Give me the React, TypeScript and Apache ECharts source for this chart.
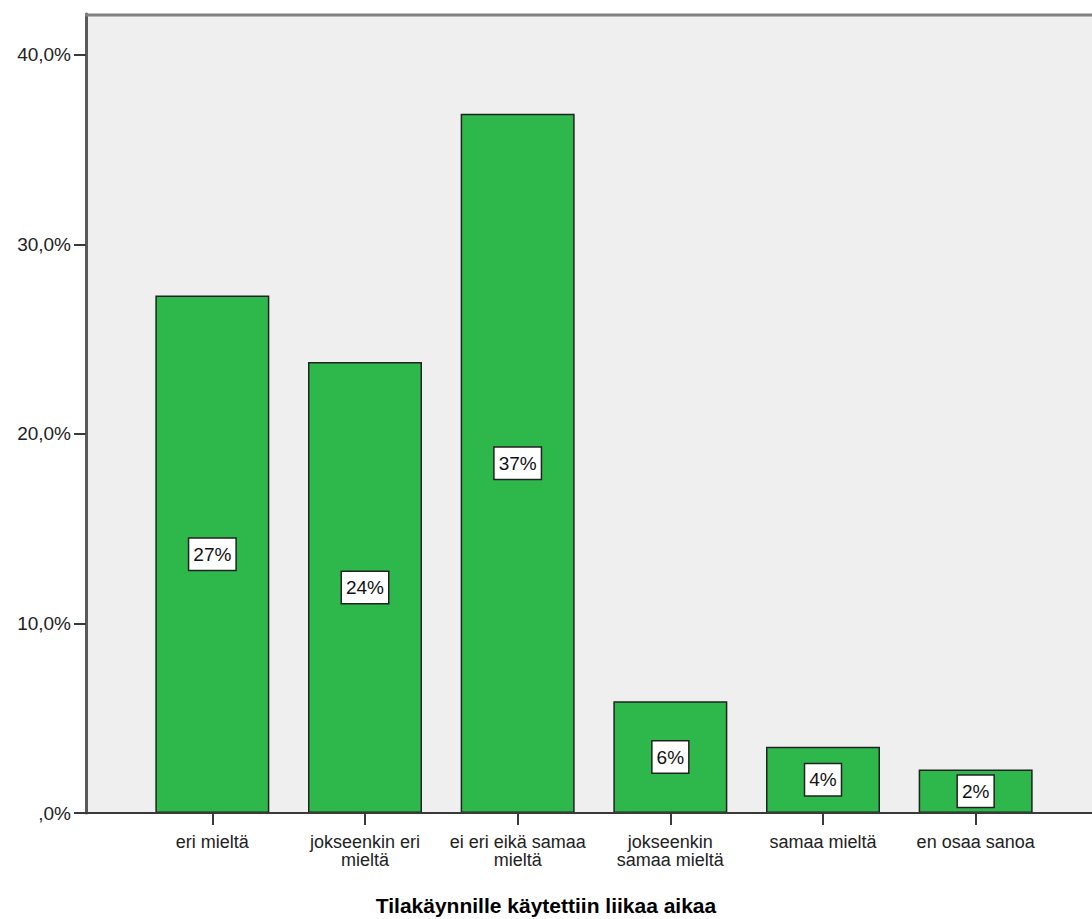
import React, { useEffect, useRef } from "react";
import * as echarts from "echarts";

const categories = [
  "eri mieltä",
  "jokseenkin eri\nmieltä",
  "ei eri eikä samaa\nmieltä",
  "jokseenkin\nsamaa mieltä",
  "samaa mieltä",
  "en osaa sanoa",
];
const percentages = [27.3, 23.8, 36.9, 5.9, 3.5, 2.3];
const axisTitle = "Tilakäynnille käytettiin liikaa aikaa";

const FONT = "'Liberation Sans', Arial, sans-serif";
const W = 1092;
const H = 919;
const PLOT_LEFT = 86;
const PLOT_TOP = 14;
const PLOT_BOTTOM = 813;

export default function App() {
  const ref = useRef<HTMLDivElement>(null);

  useEffect(() => {
    if (!ref.current) return;
    const chart = echarts.init(ref.current, undefined, { renderer: "svg" });
    chart.setOption({
      animation: false,
      backgroundColor: "#ffffff",
      textStyle: { fontFamily: FONT },
      grid: {
        left: 136,
        right: 40,
        top: PLOT_TOP,
        bottom: H - PLOT_BOTTOM,
        containLabel: false,
      },
      graphic: [
        {
          type: "rect",
          z: -10,
          shape: { x: PLOT_LEFT, y: PLOT_TOP, width: W - PLOT_LEFT, height: PLOT_BOTTOM - PLOT_TOP },
          style: { fill: "#efefef" },
        },
        {
          type: "line",
          z: 50,
          shape: { x1: PLOT_LEFT - 1, y1: PLOT_TOP + 1, x2: W, y2: PLOT_TOP + 1 },
          style: { stroke: "#808080", lineWidth: 3 },
        },
        {
          type: "line",
          z: 50,
          shape: { x1: PLOT_LEFT, y1: PLOT_BOTTOM, x2: W, y2: PLOT_BOTTOM },
          style: { stroke: "#3a3a3a", lineWidth: 2 },
        },
        {
          type: "text",
          z: 50,
          x: 546,
          y: 905,
          style: {
            text: axisTitle,
            fontFamily: FONT,
            fontSize: 21,
            fontWeight: "bold",
            fill: "#000000",
            align: "center",
            verticalAlign: "middle",
          },
        },
      ],
      xAxis: {
        type: "category",
        data: categories,
        axisLine: { show: false },
        axisTick: {
          show: true,
          alignWithLabel: true,
          length: 12,
          lineStyle: { color: "#3a3a3a", width: 2 },
        },
        axisLabel: {
          color: "#222222",
          fontSize: 18,
          lineHeight: 18,
          margin: 20,
          interval: 0,
          fontFamily: FONT,
        },
        splitLine: { show: false },
      },
      yAxis: {
        type: "value",
        min: 0,
        max: 42.16,
        interval: 10,
        offset: 136 - PLOT_LEFT,
        axisLine: { show: true, lineStyle: { color: "#5a5a5a", width: 3 } },
        axisTick: { show: true, length: 12, lineStyle: { color: "#3a3a3a", width: 2 } },
        axisLabel: {
          color: "#222222",
          fontSize: 19,
          margin: 15,
          showMaxLabel: false,
          fontFamily: FONT,
          formatter: (v: number) => (v === 0 ? ",0%" : v.toFixed(1).replace(".", ",") + "%"),
        },
        splitLine: { show: false },
      },
      series: [
        {
          type: "bar",
          data: percentages,
          barWidth: 114,
          itemStyle: { color: "#2eb84b", borderColor: "#222222", borderWidth: 1.5 },
          label: {
            show: true,
            position: "inside",
            formatter: (p: any) => Math.round(p.value) + "%",
            color: "#111111",
            fontSize: 19,
            fontFamily: FONT,
            backgroundColor: "#ffffff",
            borderColor: "#222222",
            borderWidth: 1.5,
            padding: [7, 4, 5, 4],
          },
        },
      ],
    });
    return () => chart.dispose();
  }, []);

  return (
    <div
      ref={ref}
      style={{ position: "fixed", left: 0, top: 0, width: W, height: H }}
    />
  );
}
